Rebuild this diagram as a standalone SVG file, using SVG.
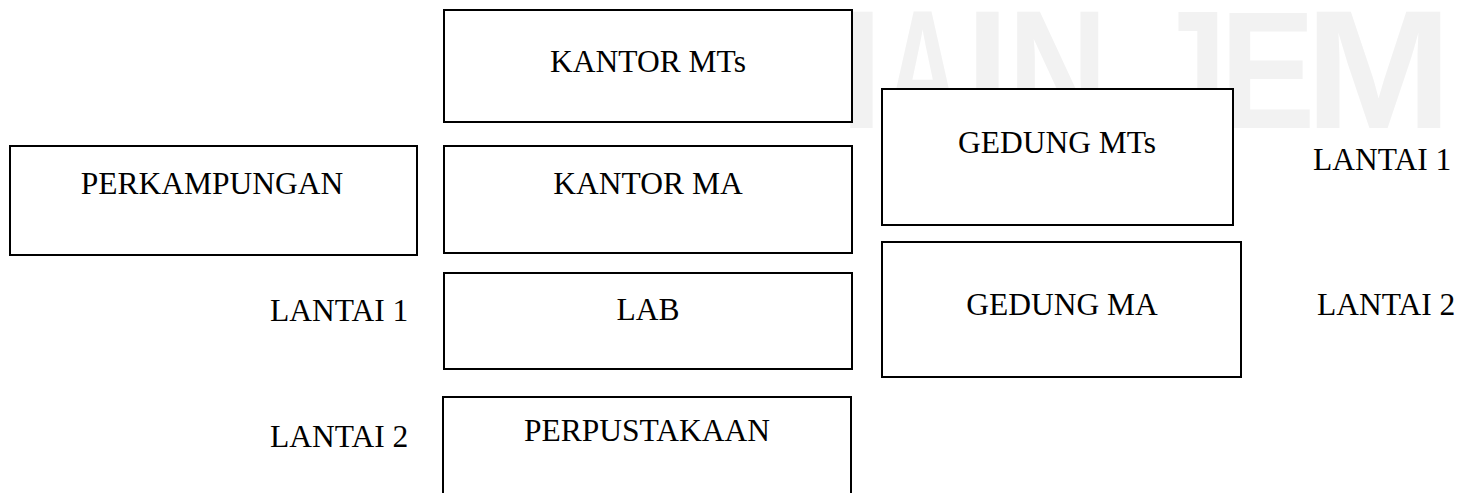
<svg xmlns="http://www.w3.org/2000/svg" width="1463" height="493" viewBox="0 0 1463 493">
<style>
.box{fill:#ffffff;stroke:#000000;stroke-width:2}
.t{font-family:"Liberation Serif","Times New Roman",serif;font-size:31.5px;fill:#000000}
.c{text-anchor:middle}
.wm{font-family:"Liberation Sans",Arial,sans-serif;font-weight:bold;font-size:168px;fill:#f2f2f2}
</style>
<rect x="0" y="0" width="1463" height="493" fill="#ffffff"/>
<g id="watermark">
<text class="wm" transform="translate(840,128) scale(0.92,1)">I</text>
<text class="wm" transform="translate(885,128) scale(0.62,1)">A</text>
<text class="wm" transform="translate(966,128) scale(0.92,1)">I</text>
<text class="wm" transform="translate(1008,128) scale(0.82,1)">N</text>
<text class="wm" transform="translate(1150,128) scale(0.82,1)">J</text>
<text class="wm" transform="translate(1220,128) scale(0.85,1)">E</text>
<text class="wm" transform="translate(1305,128) scale(1.05,1)">M</text>
</g>
<g id="connectors"></g>
<g id="kantor-mts"><rect class="box" x="444" y="10" width="408" height="112"/><text class="t c" x="648" y="72">KANTOR MTs</text></g>
<g id="perkampungan"><rect class="box" x="10" y="146" width="407" height="109"/><text class="t c" x="212" y="194">PERKAMPUNGAN</text></g>
<g id="kantor-ma"><rect class="box" x="444" y="146" width="408" height="107"/><text class="t c" x="648" y="194">KANTOR MA</text></g>
<g id="lab"><rect class="box" x="444" y="273" width="408" height="96"/><text class="t c" x="648" y="320">LAB</text></g>
<g id="perpustakaan"><rect class="box" x="443" y="397" width="408" height="100"/><text class="t c" x="647" y="441">PERPUSTAKAAN</text></g>
<g id="gedung-mts"><rect class="box" x="882" y="89" width="351" height="136"/><text class="t c" x="1057" y="153">GEDUNG MTs</text></g>
<g id="gedung-ma"><rect class="box" x="882" y="242" width="359" height="135"/><text class="t c" x="1062" y="315">GEDUNG MA</text></g>
<g id="lantai-1-left"><text class="t" x="270" y="321">LANTAI 1</text></g>
<g id="lantai-2-left"><text class="t" x="270" y="447">LANTAI 2</text></g>
<g id="lantai-1-right"><text class="t" x="1313" y="170">LANTAI 1</text></g>
<g id="lantai-2-right"><text class="t" x="1317" y="315">LANTAI 2</text></g>
</svg>
